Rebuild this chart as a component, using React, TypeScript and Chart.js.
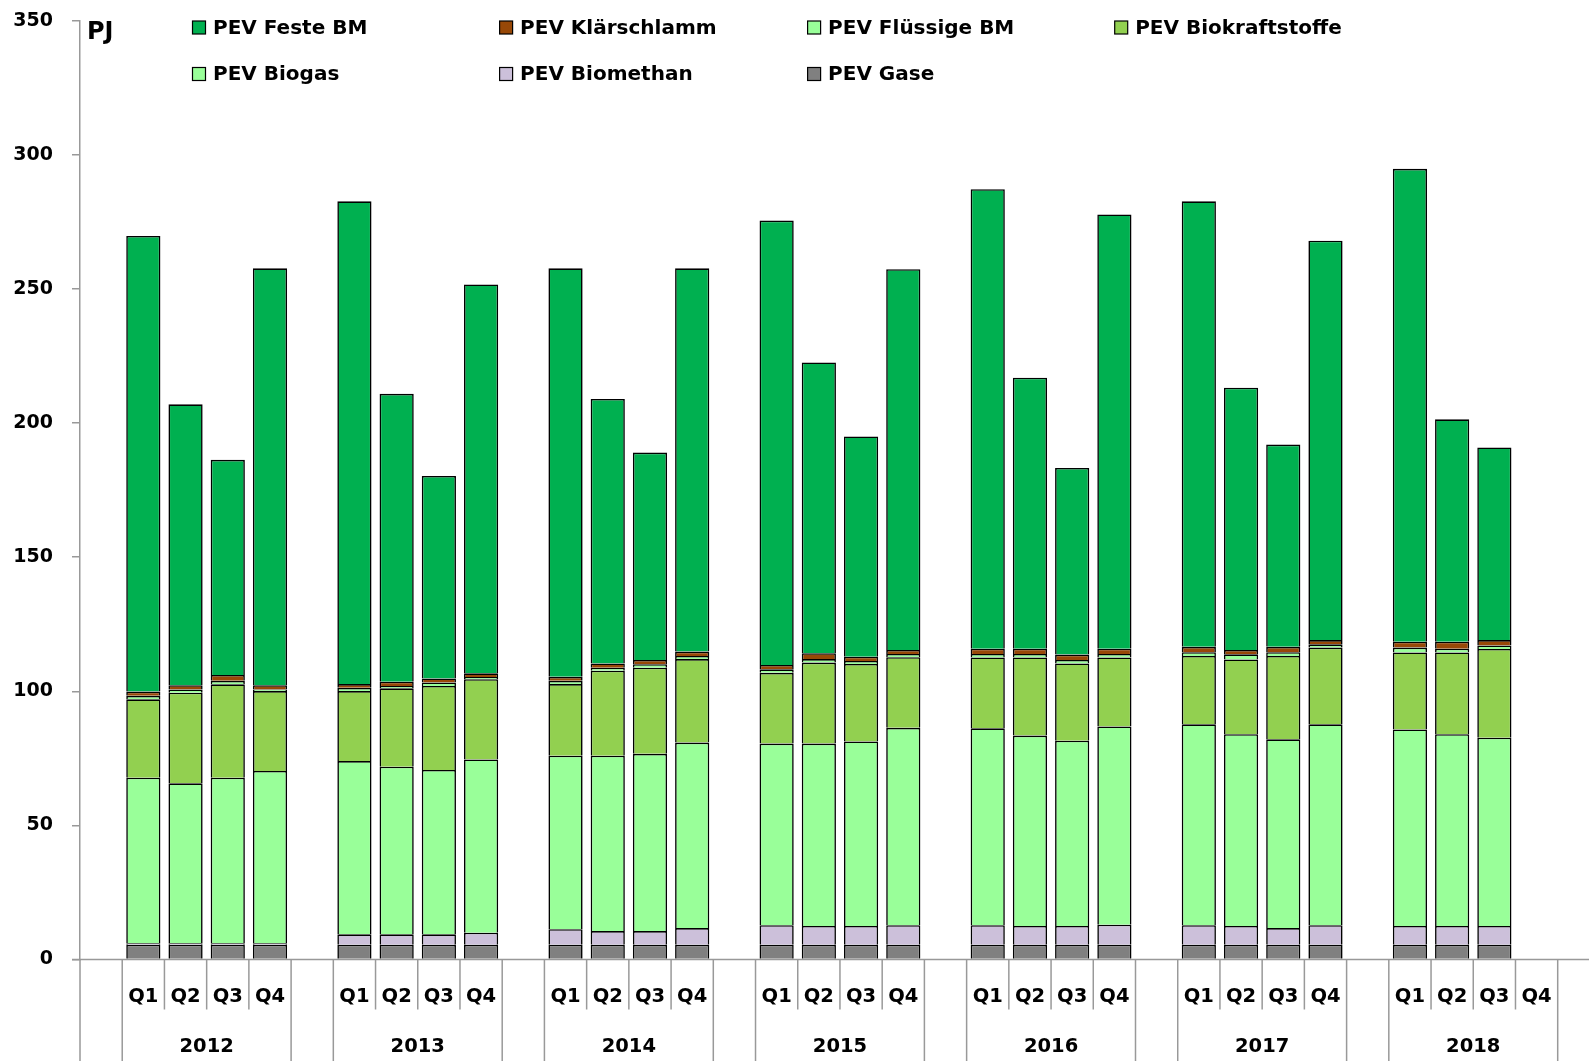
import React, { useEffect, useRef } from "react";
import { Chart, registerables } from "chart.js";

Chart.register(...registerables);

// ---------- data ----------
const years = ["2012", "2013", "2014", "2015", "2016", "2017", "2018"];
const quarters = ["Q1", "Q2", "Q3", "Q4"];
const yTicks = [0, 50, 100, 150, 200, 250, 300, 350];
const unitLabel = "PJ";

// values per quarter, 2012 Q1 ... 2018 Q4 (2018 Q4 missing)
const gase = [5.5, 5.5, 5.5, 5.5, 5.5, 5.5, 5.5, 5.5, 5.5, 5.5, 5.5, 5.5, 5.5, 5.5, 5.5, 5.5, 5.5, 5.5, 5.5, 5.5, 5.5, 5.5, 5.5, 5.5, 5.5, 5.5, 5.5, null];
const biomethan = [0.6, 0.6, 0.6, 0.6, 3.9, 3.9, 3.9, 4.5, 5.8, 5.1, 5.1, 6.2, 7.3, 7.0, 7.0, 7.3, 7.3, 7.0, 7.0, 7.5, 7.3, 7.0, 6.2, 7.3, 7.0, 7.0, 7.0, null];
const biogas = [61.7, 59.6, 61.7, 64.2, 64.6, 62.5, 61.3, 64.6, 64.7, 65.4, 66.1, 69.2, 67.7, 68.0, 68.8, 73.6, 73.4, 71.0, 69.1, 73.9, 74.9, 71.5, 70.4, 74.9, 73.3, 71.5, 70.2, null];
const biokraftstoffe = [29.2, 33.8, 34.8, 29.8, 26.1, 29.2, 31.3, 29.9, 26.7, 31.7, 32.1, 31.1, 26.4, 30.2, 28.9, 26.3, 26.4, 29.1, 28.8, 25.7, 25.5, 27.9, 31.1, 28.6, 28.7, 30.5, 33.1, null];
const fluessigeBM = [1.3, 1.2, 1.3, 0.6, 1.2, 0.9, 1.3, 0.8, 1.2, 1.1, 1.3, 1.2, 1.3, 1.3, 1.1, 1.2, 1.3, 1.3, 1.3, 1.3, 1.4, 1.9, 1.4, 1.2, 1.8, 1.4, 1.3, null];
const klaerschlamm = [1.6, 1.6, 2.2, 1.6, 1.4, 1.6, 1.5, 1.4, 1.5, 1.6, 1.6, 1.6, 1.6, 2.2, 1.6, 1.5, 2.0, 2.0, 2.0, 2.0, 2.0, 1.6, 2.0, 1.6, 2.2, 2.6, 2.0, null];
const festeBM = [169.9, 104.7, 80.2, 155.4, 180.0, 107.3, 75.5, 145.0, 152.3, 98.6, 77.3, 142.9, 165.7, 108.4, 82.1, 142.0, 171.3, 101.0, 69.6, 161.9, 166.1, 97.8, 75.4, 148.9, 176.3, 82.9, 71.8, null];

const seriesNames = ["PEV Gase", "PEV Biomethan", "PEV Biogas", "PEV Biokraftstoffe", "PEV Flüssige BM", "PEV Klärschlamm", "PEV Feste BM"];
const seriesColors = ["#808080", "#CCC0DA", "#99FF99", "#92D050", "#99FF99", "#984807", "#00B050"];
const seriesValues = [gase, biomethan, biogas, biokraftstoffe, fluessigeBM, klaerschlamm, festeBM];
// legend order (row-major, 4 columns)
const legendOrder = ["PEV Feste BM", "PEV Klärschlamm", "PEV Flüssige BM", "PEV Biokraftstoffe", "PEV Biogas", "PEV Biomethan", "PEV Gase"];

// ---------- derived category layout: an empty slot before each year ----------
const categories: string[] = [];
years.forEach(() => {
  categories.push("");
  quarters.forEach((q) => categories.push(q));
});
const expand = (vals: (number | null)[]) => {
  const out: (number | null)[] = [];
  years.forEach((_, yi) => {
    out.push(null);
    quarters.forEach((_, qi) => out.push(vals[yi * 4 + qi]));
  });
  return out;
};

const FONT = '"DejaVu Sans", "Liberation Sans", Arial, sans-serif';
const AXIS = "#999999";

const customAxisPlugin = {
  id: "customAxis",
  afterDraw(chart: any) {
    const { ctx, chartArea, scales } = chart;
    const xs = scales.x;
    const bottom = chartArea.bottom;
    const H = chart.height;
    const half = (xs.getPixelForValue(1) - xs.getPixelForValue(0)) / 2;
    ctx.save();
    ctx.strokeStyle = AXIS;
    ctx.lineWidth = 1.5;
    const line = (x1: number, y1: number, x2: number, y2: number) => {
      ctx.beginPath();
      ctx.moveTo(x1, y1);
      ctx.lineTo(x2, y2);
      ctx.stroke();
    };
    line(chartArea.left - 8, bottom, chart.width, bottom);
    for (let i = 0; i <= categories.length; i++) {
      const x = xs.getPixelForValue(i) - half;
      const m = i % 5;
      const tall = m === 0 || m === 1;
      line(x, bottom, x, tall ? H : bottom + 50);
    }
    ctx.fillStyle = "#000";
    ctx.textAlign = "center";
    ctx.textBaseline = "middle";
    ctx.font = `bold 19.5px ${FONT}`;
    categories.forEach((c, i) => {
      if (c) ctx.fillText(c, xs.getPixelForValue(i), bottom + 37);
    });
    years.forEach((y, k) => {
      const a = xs.getPixelForValue(k * 5 + 1);
      const b = xs.getPixelForValue(k * 5 + 4);
      ctx.fillText(y, (a + b) / 2, bottom + 87);
    });

    // unit label
    ctx.textAlign = "left";
    ctx.font = `bold 24px ${FONT}`;
    ctx.fillText(unitLabel, chartArea.left + 7, chartArea.top + 12);

    // legend
    const colX = [192.5, 499.6, 807.6, 1114.7];
    const rowY = [27.5, 74];
    ctx.font = `bold 20px ${FONT}`;
    legendOrder.forEach((name, k) => {
      const si = seriesNames.indexOf(name);
      const x = colX[k % 4];
      const y = rowY[Math.floor(k / 4)];
      ctx.fillStyle = seriesColors[si];
      ctx.fillRect(x, y - 6.5, 13, 13);
      ctx.strokeStyle = "#000";
      ctx.lineWidth = 1.2;
      ctx.strokeRect(x, y - 6.5, 13, 13);
      ctx.fillStyle = "#000";
      ctx.fillText(name, x + 20.5, y + 1);
    });
    ctx.restore();
  },
};

export default function App() {
  const ref = useRef<HTMLCanvasElement>(null);
  useEffect(() => {
    if (!ref.current) return;
    const chart = new Chart(ref.current, {
      type: "bar",
      data: {
        labels: categories,
        datasets: seriesNames.map((name, i) => ({
          label: name,
          data: expand(seriesValues[i]),
          backgroundColor: seriesColors[i],
          borderColor: "#000",
          borderWidth: 1.6,
          barPercentage: 0.81,
          categoryPercentage: 1.0,
        })),
      },
      options: {
        responsive: false,
        devicePixelRatio: 1,
        animation: false,
        layout: { padding: { top: 20.8, right: 31.3, bottom: 101.5, left: 0 } },
        plugins: { legend: { display: false }, tooltip: { enabled: false } },
        scales: {
          x: { display: false, stacked: true },
          y: {
            stacked: true,
            min: 0,
            max: 350,
            afterFit: (s: any) => {
              s.width = 80;
              s.paddingTop = 0;
              s.paddingBottom = 0;
            },
            afterBuildTicks: (s: any) => {
              s.ticks = yTicks.map((v) => ({ value: v }));
            },
            border: { display: true, color: AXIS, width: 1.5 },
            grid: { display: true, drawOnChartArea: false, drawTicks: true, tickLength: 8, color: AXIS, lineWidth: 1.5 },
            ticks: { color: "#000", padding: 19, font: { family: FONT, weight: "bold", size: 19 } },
          },
        },
      },
      plugins: [customAxisPlugin],
    });
    return () => chart.destroy();
  }, []);
  return (
    <div style={{ position: "fixed", left: 0, top: 0, width: 1589, height: 1061, background: "#fff", overflow: "hidden" }}>
      <canvas ref={ref} width={1589} height={1061} />
    </div>
  );
}
